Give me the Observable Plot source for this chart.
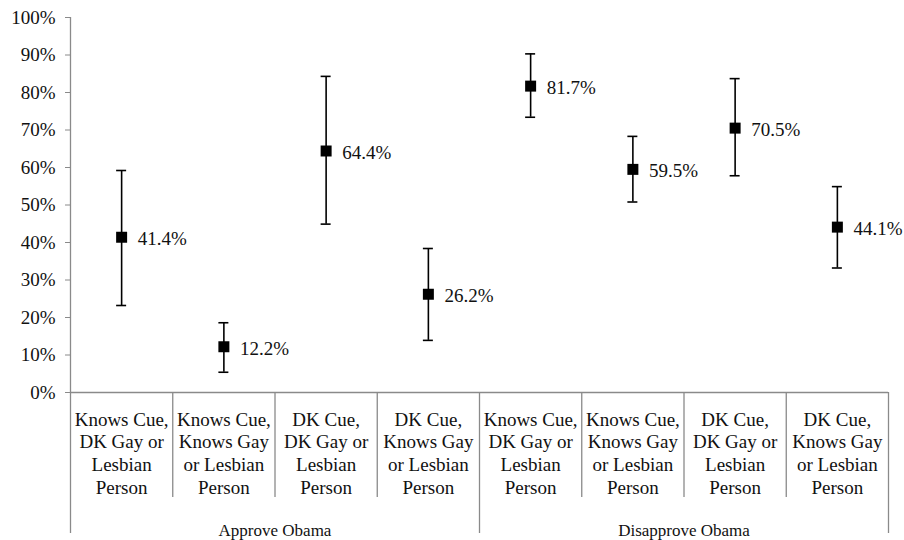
<!DOCTYPE html>
<html><head><meta charset="utf-8">
<script src="https://cdn.jsdelivr.net/npm/d3@7"></script>
<script src="https://cdn.jsdelivr.net/npm/@observablehq/plot@0.6"></script>
<style>
body{margin:0;background:#fff;}
#chart svg, #chart svg text{font-family:"Liberation Serif","Times New Roman",serif;}
</style>
</head><body><div id="chart"></div>
<script>
const categories = [
  "Knows Cue,\nDK Gay or\nLesbian\nPerson",
  "Knows Cue,\nKnows Gay\nor Lesbian\nPerson",
  "DK Cue,\nDK Gay or\nLesbian\nPerson",
  "DK Cue,\nKnows Gay\nor Lesbian\nPerson",
  "Knows Cue,\nDK Gay or\nLesbian\nPerson",
  "Knows Cue,\nKnows Gay\nor Lesbian\nPerson",
  "DK Cue,\nDK Gay or\nLesbian\nPerson",
  "DK Cue,\nKnows Gay\nor Lesbian\nPerson"
];
const groups = ["Approve Obama", "Disapprove Obama"];
const groupOf = [0, 0, 0, 0, 1, 1, 1, 1];
const values = [41.4, 12.2, 64.4, 26.2, 81.7, 59.5, 70.5, 44.1];
const lower  = [23.2, 5.4, 44.9, 13.9, 73.4, 50.8, 57.8, 33.2];
const upper  = [59.2, 18.6, 84.3, 38.4, 90.3, 68.3, 83.7, 54.9];
const yTicks = [0, 10, 20, 30, 40, 50, 60, 70, 80, 90, 100];

const data = categories.map((c, i) => ({
  i, label: c, group: groups[groupOf[i]], value: values[i], lo: lower[i], hi: upper[i]
}));
const groupData = groups.map((g, k) => {
  const idx = data.filter(d => groupOf[d.i] === k).map(d => d.i);
  return {group: g, first: d3.min(idx), last: d3.max(idx) + 1};
});
const groupBounds = [0, ...groupData.map(g => g.last)];
const innerBounds = d3.range(1, categories.length).filter(b => !groupBounds.includes(b));

const axisColor = "#8a8a8a";
const fs = 19;
const ff = '"Liberation Serif","Times New Roman",serif';

const chart = Plot.plot({
  width: 904,
  height: 540,
  marginLeft: 70,
  marginRight: 16,
  marginTop: 17,
  marginBottom: 148,
  style: {fontFamily: ff, fontSize: fs + "px", color: "#111", background: "#fff"},
  x: {domain: [0, categories.length], axis: null},
  y: {domain: [0, 100], axis: null},
  marks: [
    Plot.axisY(yTicks, {tickSize: 5, tickPadding: 10, stroke: axisColor, tickFormat: d => d + "%", fontSize: fs, fontFamily: ff, fill: "#111"}),
    Plot.ruleX([0], {y1: 0, y2: 100, stroke: axisColor, strokeWidth: 1.3}),
    Plot.ruleY([0], {x1: 0, x2: categories.length, stroke: axisColor, strokeWidth: 1.3}),
    Plot.ruleX(innerBounds, {y1: () => 0, y2: () => 0, insetBottom: -105, stroke: axisColor, strokeWidth: 1.3}),
    Plot.ruleX(groupBounds, {y1: () => 0, y2: () => 0, insetBottom: -141, stroke: axisColor, strokeWidth: 1.3}),
    Plot.text(data, {x: d => d.i + 0.5, y: () => 0, text: "label", lineAnchor: "top", lineHeight: 1.2, dy: 17, fontSize: fs, fontFamily: ff, fill: "#111"}),
    Plot.text(groupData, {x: d => (d.first + d.last) / 2, y: () => 0, text: "group", lineAnchor: "middle", dy: 138, fontSize: 17, fontFamily: ff, fill: "#111"}),
    Plot.ruleX(data, {x: d => d.i + 0.5, y1: "lo", y2: "hi", stroke: "#000", strokeWidth: 1.6}),
    Plot.ruleY(data, {y: "hi", x1: d => d.i + 0.5, x2: d => d.i + 0.5, insetLeft: -5, insetRight: -5, stroke: "#000", strokeWidth: 1.6}),
    Plot.ruleY(data, {y: "lo", x1: d => d.i + 0.5, x2: d => d.i + 0.5, insetLeft: -5, insetRight: -5, stroke: "#000", strokeWidth: 1.6}),
    Plot.dot(data, {x: d => d.i + 0.5, y: "value", symbol: "square", r: 6.2, fill: "#000", stroke: "none"}),
    Plot.text(data, {x: d => d.i + 0.5, y: "value", text: d => d.value.toFixed(1) + "%", textAnchor: "start", dx: 16, dy: 2, fontSize: fs, fontFamily: ff, fill: "#111"})
  ]
});
document.getElementById("chart").appendChild(chart);
</script>
</body></html>
